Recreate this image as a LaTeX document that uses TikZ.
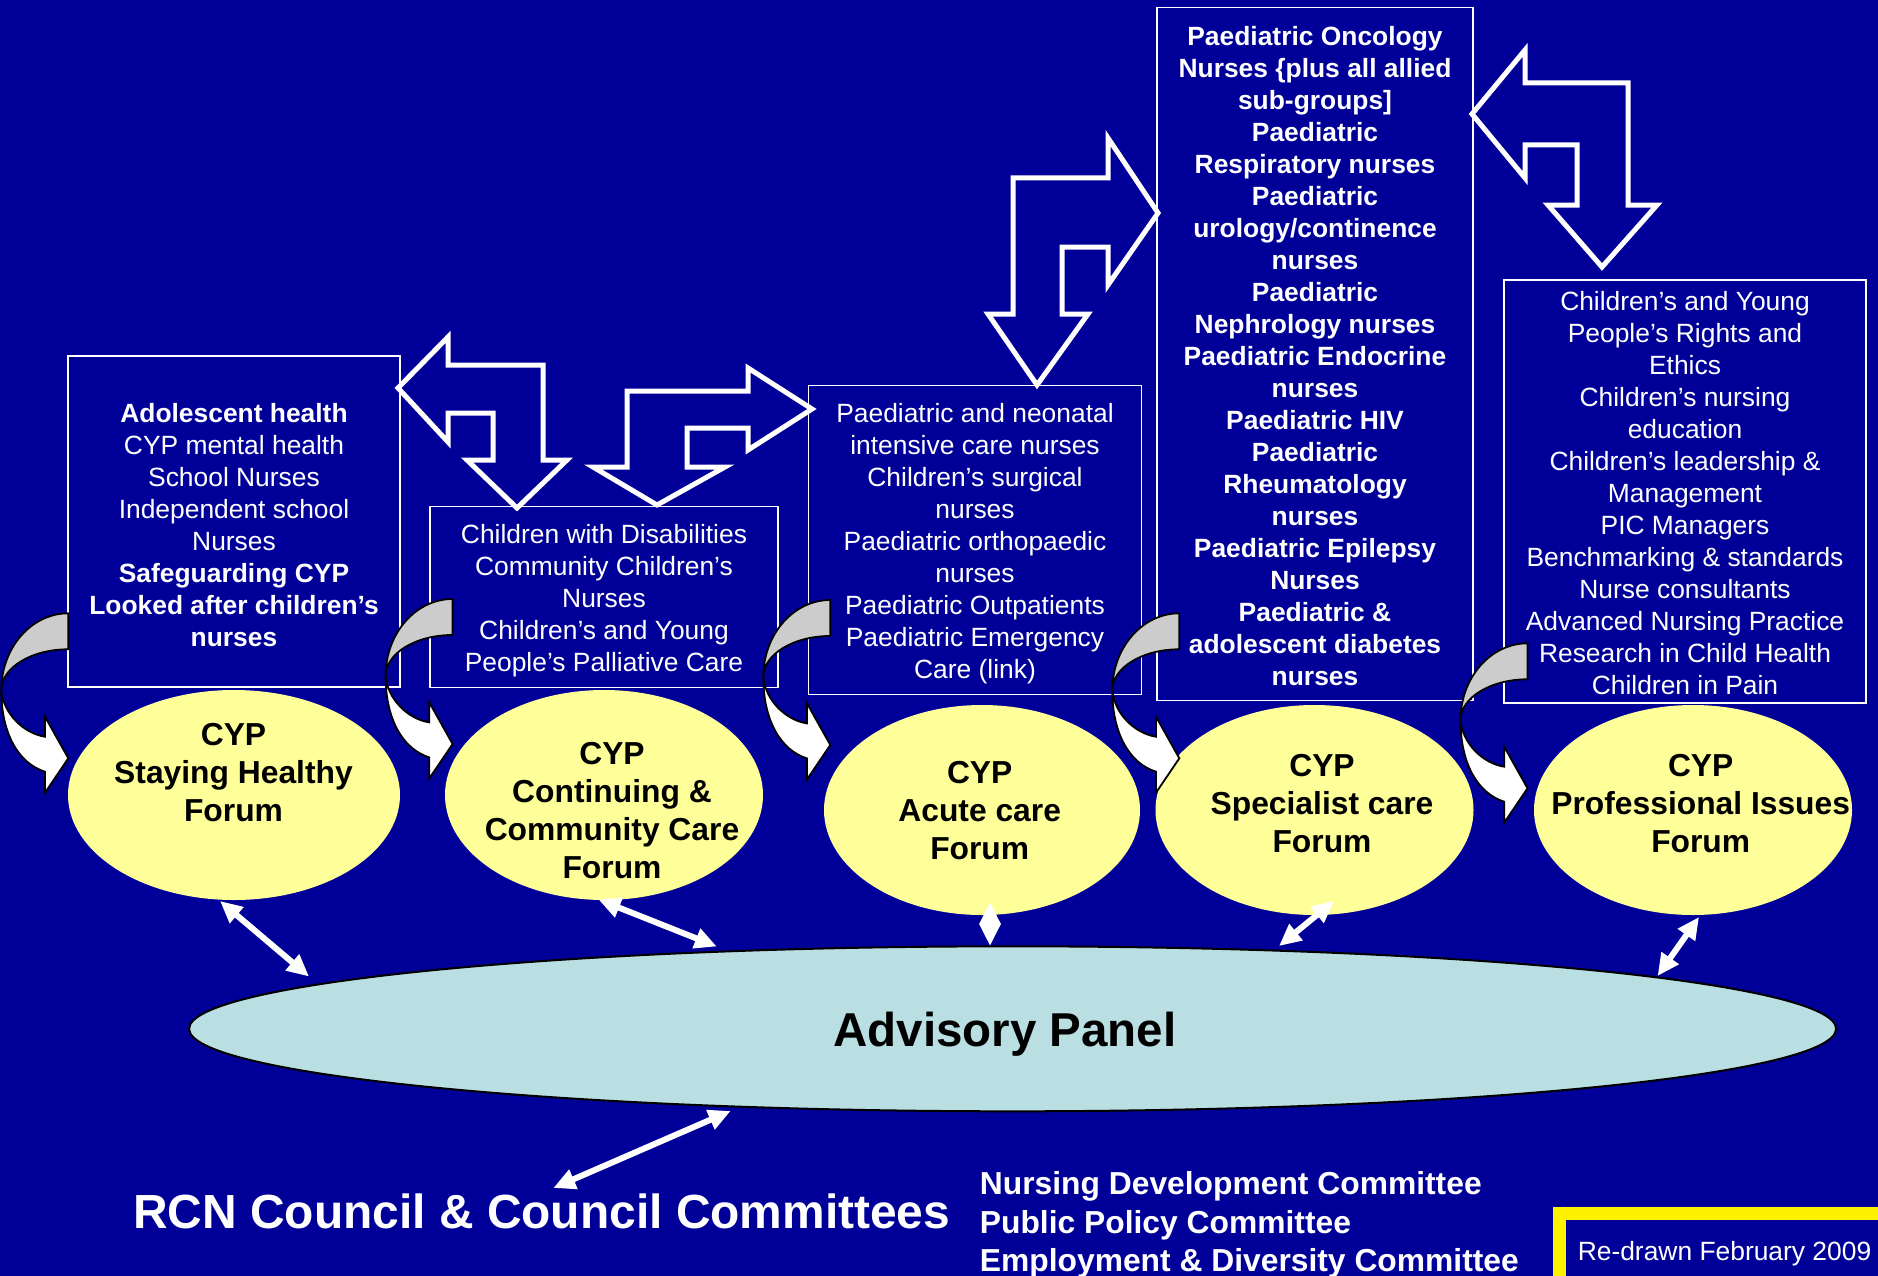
\documentclass[tikz,border=0pt]{standalone}
\usepackage{fontspec}
\setmainfont{Liberation Sans}
\usetikzlibrary{shapes.geometric,arrows.meta}
\definecolor{bgblue}{RGB}{0,0,153}
\definecolor{fyellow}{RGB}{255,255,153}
\definecolor{panelblue}{RGB}{186,223,227}
\definecolor{cgray}{RGB}{204,204,204}
\tikzset{
  box/.style={draw=white, line width=1.8pt, inner sep=0pt},
  btext/.style={text=white, align=center, inner sep=0pt, yshift=-3.5pt,
    font=\fontsize{26.4}{32}\selectfont},
  fell/.style={ellipse, fill=fyellow, inner sep=0pt},
  ftext/.style={align=center, text=black, font=\bfseries\fontsize{31.8}{38}\selectfont},
  barrow/.style={draw=white, line width=5pt, fill=bgblue, line join=miter},
  dbl/.style={draw=white, line width=6pt,
    {Triangle[length=22pt,width=20pt]}-{Triangle[length=22pt,width=20pt]}},
  carrow/.pic={
    \filldraw[fill=cgray, draw=black, line width=1.8pt, line join=round]
      (0,-145) .. controls (-37,-145) and (-67,-110.5) .. (-67,-68)
      .. controls (-67,-90.6) and (-37,-109) .. (0,-109) -- cycle;
    \filldraw[fill=white, draw=black, line width=1.8pt, line join=miter]
      (-67,-68) .. controls (-65,-45) and (-45,-25) .. (-23.3,-21.6)
      -- (-23.3,-41.6) -- (0,0) -- (-23.3,34.4) -- (-23.3,13.4)
      .. controls (-50,5) and (-67,-25) .. (-67,-68) -- cycle;
  }
}
\begin{document}
\begin{tikzpicture}[x=1pt, y=-1pt]
\useasboundingbox (0,0) rectangle (1878,1276);
\fill[bgblue] (0,0) rectangle (1878,1276);

% boxes
\node[box, minimum width=332pt, minimum height=331pt] (b1) at (234,521.5) {};
\node[btext] (b1t) at (b1.center)
  {\textbf{Adolescent health}\\CYP mental health\\School Nurses\\Independent school\\Nurses\\
   \textbf{Safeguarding CYP}\\\textbf{Looked after children’s}\\\textbf{nurses}};
\node[box, minimum width=348pt, minimum height=181pt] (b2) at (604,597) {};
\node[btext] (b2t) at (b2.center)
  {Children with Disabilities\\Community Children’s\\Nurses\\Children’s and Young\\People’s Palliative Care};
\node[box, minimum width=333pt, minimum height=309pt] (b3) at (975,540) {};
\node[btext] (b3t) at (b3.center)
  {Paediatric and neonatal\\intensive care nurses\\Children’s surgical\\nurses\\Paediatric orthopaedic\\nurses\\
   Paediatric Outpatients\\Paediatric Emergency\\Care (link)};
\node[box, minimum width=316pt, minimum height=693pt] (b4) at (1315,354) {};
\node[btext, font=\bfseries\fontsize{26.4}{32}\selectfont, yshift=1.5pt] (b4t) at (b4.center)
  {Paediatric Oncology\\Nurses \{plus all allied\\sub-groups]\\Paediatric\\Respiratory nurses\\Paediatric\\
   urology/continence\\nurses\\Paediatric\\Nephrology nurses\\Paediatric Endocrine\\nurses\\Paediatric HIV\\
   Paediatric\\Rheumatology\\nurses\\Paediatric Epilepsy\\Nurses\\Paediatric \&\\adolescent diabetes\\nurses};
\node[box, minimum width=362pt, minimum height=423pt] (b5) at (1685,491.5) {};
\node[btext, yshift=2pt] (b5t) at (b5.center)
  {Children’s and Young\\People’s Rights and\\Ethics\\Children’s nursing\\education\\Children’s leadership \&\\
   Management\\PIC Managers\\Benchmarking \& standards\\Nurse consultants\\Advanced Nursing Practice\\
   Research in Child Health\\Children in Pain};

% block arrows
\draw[barrow] (398,388) -- (448,337) -- (448,365) -- (543,365) -- (543,460) -- (567,460) -- (517,508)
  -- (467,460) -- (493,460) -- (493,413) -- (448,413) -- (448,442) -- cycle;
\draw[barrow] (812,409) -- (748,450) -- (748,428) -- (687,428) -- (687,467) -- (725,467) -- (657,505)
  -- (593,467) -- (627,467) -- (627,391) -- (748,391) -- (748,368) -- cycle;
\draw[barrow] (1158,213) -- (1108,285) -- (1108,247) -- (1062,247) -- (1062,314) -- (1088,314) -- (1037,385)
  -- (988,314) -- (1013,314) -- (1013,178) -- (1108,178) -- (1108,138) -- cycle;
\draw[barrow] (1472,114) -- (1525,50) -- (1525,83) -- (1628,83) -- (1628,205) -- (1657,205) -- (1602,267)
  -- (1548,205) -- (1577,205) -- (1577,145) -- (1525,145) -- (1525,178) -- cycle;

% forums
\node[fell, minimum width=332pt, minimum height=210pt] (e1) at (234,795) {};
\node[fell, minimum width=318pt, minimum height=210pt] (e2) at (604,795) {};
\node[fell, minimum width=316pt, minimum height=210pt] (e3) at (982,810) {};
\node[fell, minimum width=318pt, minimum height=210pt] (e4) at (1314.5,810) {};
\node[fell, minimum width=318pt, minimum height=210pt] (e5) at (1693,810) {};
\node[ftext] (t1) at (233.5,773) {CYP\\Staying Healthy\\Forum};
\node[ftext] (t2) at (612,811) {CYP\\Continuing \&\\Community Care\\Forum};
\node[ftext] (t3) at (979.7,810.6) {CYP\\Acute care\\Forum};
\node[ftext] (t4) at (1322,803.5) {CYP\\Specialist care\\Forum};
\node[ftext] (t5) at (1700.7,803.5) {CYP\\Professional Issues\\Forum};

% curved arrows
\pic at (68.3,758.3) {carrow};
\pic at (452.6,744) {carrow};
\pic at (830.3,745) {carrow};
\pic at (1179.3,758.3) {carrow};
\pic at (1527.5,788.3) {carrow};

% advisory panel
\node[ellipse, fill=panelblue, draw=black, line width=2pt, inner sep=0pt,
  minimum width=1647pt, minimum height=165pt] (panel) at (1012.6,1028.8) {};
\node[anchor=base, font=\bfseries\fontsize{47.5}{56}\selectfont] (ptext) at (1005,1046.7) {Advisory Panel};

% connectors
\coordinate (a1t) at (220,901);   \coordinate (a1b) at (309,976.5);
\coordinate (a2t) at (598.5,899.5); \coordinate (a2b) at (716.8,946.5);
\coordinate (a3t) at (990,902);   \coordinate (a3b) at (990,946);
\coordinate (a4t) at (1334,901);  \coordinate (a4b) at (1279,946);
\coordinate (a5t) at (1699,917);  \coordinate (a5b) at (1657.6,976);
\coordinate (rt) at (730.6,1111); \coordinate (rb) at (553.3,1188);
\draw[dbl] (a1t) -- (a1b);
\draw[dbl] (a2t) -- (a2b);
\draw[dbl] (a3t) -- (a3b);
\draw[dbl] (a4t) -- (a4b);
\draw[dbl] (a5t) -- (a5b);
\draw[dbl] (rt) -- (rb);

% bottom texts
\node[anchor=base west, text=white, inner sep=0pt, font=\bfseries\fontsize{47.9}{56}\selectfont] (rcn) at (133,1228.5)
  {RCN Council \& Council Committees};
\node[anchor=base west, text=white, inner sep=0pt, font=\bfseries\fontsize{31.8}{38}\selectfont] (c1) at (979.7,1194.7)
  {Nursing Development Committee};
\node[anchor=base west, text=white, inner sep=0pt, font=\bfseries\fontsize{31.8}{38}\selectfont] (c2) at (979.7,1233)
  {Public Policy Committee};
\node[anchor=base west, text=white, inner sep=0pt, font=\bfseries\fontsize{31.8}{38}\selectfont] (c3) at (979.7,1271)
  {Employment \& Diversity Committee};

% note box
\draw[yellow, line width=13pt] (1559,1213.5) rectangle (1900,1300);
\node[anchor=base, text=white, inner sep=0pt, font=\fontsize{26.4}{32}\selectfont] (note) at (1724.5,1260)
  {Re-drawn February 2009};
\end{tikzpicture}
\end{document}
